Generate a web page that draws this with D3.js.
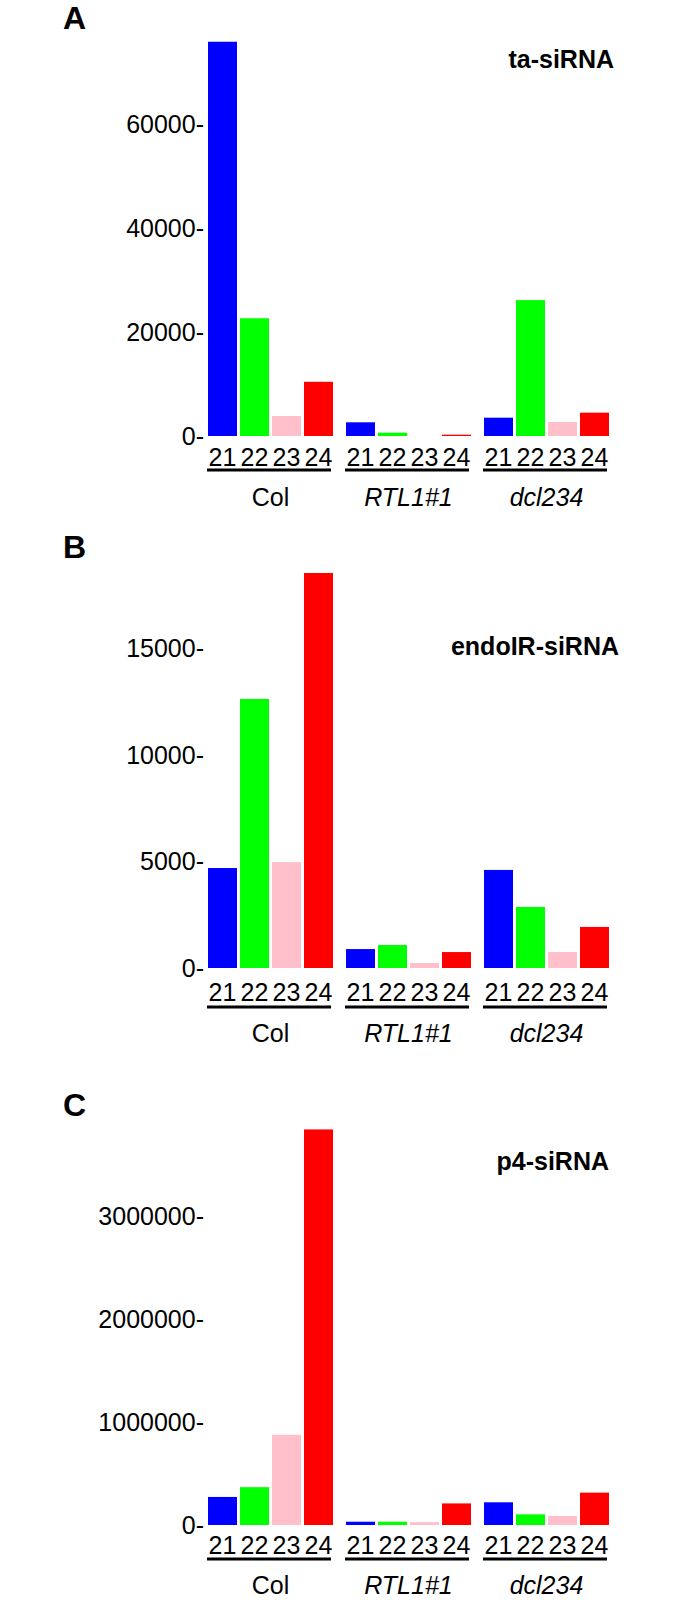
<!DOCTYPE html>
<html>
<head>
<meta charset="utf-8">
<script src="https://cdn.jsdelivr.net/npm/d3@7"></script>
<style>
  body { margin: 0; background: white; }
  text { font-family: "Liberation Sans", Arial, sans-serif; }
</style>
</head>
<body>
<div id="chart"></div>
<script>
var width = 676,
    height = 1600

// categories
var groups = ["Col", "RTL1#1", "dcl234"]
var sizes = ["21", "22", "23", "24"]
var colors = ["#0000ff", "#00ff00", "#ffc0cb", "#ff0000"]

// A: ta-siRNA
var taCol = [76000, 22700, 3850, 10450]
var taRTL = [2640, 640, 0, 250]
var taDcl = [3530, 26200, 2700, 4500]
var taTicks = [0, 20000, 40000, 60000]

// B: endoIR-siRNA
var irCol = [4700, 12650, 4980, 18570]
var irRTL = [890, 1080, 235, 750]
var irDcl = [4610, 2870, 750, 1930]
var irTicks = [0, 5000, 10000, 15000]

// C: p4-siRNA
var p4Col = [273000, 368000, 878000, 3850000]
var p4RTL = [32000, 32000, 28000, 210000]
var p4Dcl = [221000, 104000, 88000, 315000]
var p4Ticks = [0, 1000000, 2000000, 3000000]

// panel layout (positions only)
var panels = [
  {letter: "A", title: "ta-siRNA", values: [taCol, taRTL, taDcl], ticks: taTicks,
   max: 80000, base: 436, top: 21, letterY: 29, titleX: 614, titleY: 68, lab: 21, ul: 34, grp: 61},
  {letter: "B", title: "endoIR-siRNA", values: [irCol, irRTL, irDcl], ticks: irTicks,
   max: 20000, base: 968, top: 542.6, letterY: 558, titleX: 619, titleY: 655, lab: 24, ul: 39, grp: 65},
  {letter: "C", title: "p4-siRNA", values: [p4Col, p4RTL, p4Dcl], ticks: p4Ticks,
   max: 4000000, base: 1525, top: 1114, letterY: 1116, titleX: 609, titleY: 1170, lab: 20, ul: 34, grp: 60}
]

var svg = d3.select("#chart")
  .append("svg")
    .attr("width", width)
    .attr("height", height)
    .style("background-color", "white")

// x scales: groups, then sizes within a group
var x0 = d3.scaleBand()
    .domain(groups)
    .range([208, 609])
    .paddingInner(13 / 138)

var x1 = d3.scaleBand()
    .domain(sizes)
    .range([0, x0.bandwidth()])
    .paddingInner(3 / 32)

panels.forEach(function(p) {
  var g = svg.append("g")

  var y = d3.scaleLinear()
      .domain([0, p.max])
      .range([p.base, p.top])

  // panel letter
  g.append("text")
      .attr("x", 63)
      .attr("y", p.letterY)
      .style("font-size", "32px")
      .style("font-weight", "bold")
      .text(p.letter)

  // title
  g.append("text")
      .attr("x", p.titleX)
      .attr("y", p.titleY)
      .attr("text-anchor", "end")
      .style("font-size", "25px")
      .style("font-weight", "bold")
      .text(p.title)

  // y axis: labels only, with a dash as tick
  var ax = g.append("g")
      .attr("transform", "translate(204,0)")
      .call(d3.axisLeft(y)
        .tickValues(p.ticks)
        .tickSize(0)
        .tickPadding(0)
        .tickFormat(function(d) { return d + "-" }))
  ax.select(".domain").remove()
  ax.selectAll("text")
      .style("font-family", "'Liberation Sans', Arial, sans-serif")
      .style("font-size", "25px")
      .attr("fill", "black")

  groups.forEach(function(grp, gi) {
    var gx = x0(grp)
    var vals = p.values[gi]

    // bars
    g.selectAll(".bar" + gi)
      .data(sizes)
      .enter()
      .append("rect")
        .attr("x", function(s) { return gx + x1(s) })
        .attr("width", x1.bandwidth())
        .attr("y", function(s, i) { return y(vals[i]) })
        .attr("height", function(s, i) { return y(0) - y(vals[i]) })
        .attr("fill", function(s, i) { return colors[i] })

    // size labels
    g.selectAll(".lab" + gi)
      .data(sizes)
      .enter()
      .append("text")
        .attr("x", function(s) { return gx + x1(s) + x1.bandwidth() / 2 })
        .attr("y", p.base + p.lab)
        .attr("dy", "0.36em")
        .attr("text-anchor", "middle")
        .style("font-size", "25px")
        .text(function(s) { return s })

    // underline
    g.append("line")
        .attr("x1", gx - 1)
        .attr("x2", gx + x0.bandwidth() - 2)
        .attr("y1", p.base + p.ul)
        .attr("y2", p.base + p.ul)
        .attr("stroke", "black")
        .attr("stroke-width", 3)

    // group label
    g.append("text")
        .attr("x", gx + x0.bandwidth() / 2)
        .attr("y", p.base + p.grp)
        .attr("dy", "0.36em")
        .attr("text-anchor", "middle")
        .style("font-size", "25px")
        .style("font-style", gi == 0 ? "normal" : "italic")
        .text(grp)
  })
})
</script>
</body>
</html>
